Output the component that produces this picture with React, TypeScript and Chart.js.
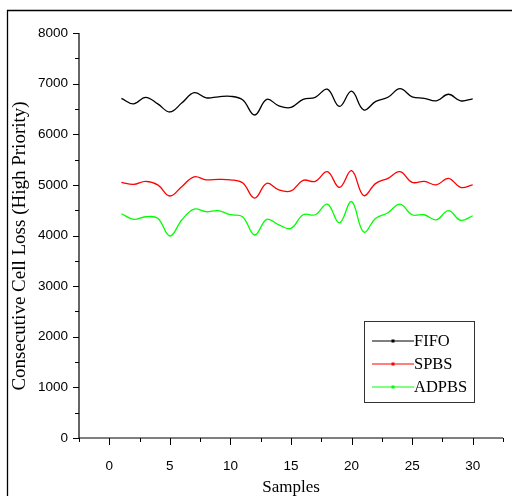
import React, { useEffect, useRef } from "react";
import { Chart, registerables } from "chart.js";

Chart.register(...registerables);

const samples = [1, 2, 3, 4, 5, 6, 7, 8, 9, 10, 11, 12, 13, 14, 15, 16, 17, 18, 19, 20, 21, 22, 23, 24, 25, 26, 27, 28, 29, 30];
const fifo = [6710, 6600, 6730, 6600, 6440, 6620, 6820, 6720, 6740, 6750, 6680, 6380, 6690, 6560, 6530, 6690, 6730, 6890, 6550, 6850, 6480, 6650, 6730, 6900, 6740, 6710, 6660, 6790, 6660, 6700];
const spbs = [5050, 5010, 5070, 5000, 4780, 4970, 5160, 5100, 5110, 5100, 5040, 4740, 5030, 4900, 4880, 5090, 5070, 5260, 4950, 5280, 4790, 5030, 5130, 5260, 5050, 5070, 5000, 5130, 4950, 5000];
const adpbs = [4430, 4320, 4370, 4340, 3990, 4310, 4520, 4470, 4490, 4410, 4370, 4010, 4320, 4210, 4140, 4410, 4410, 4620, 4250, 4670, 4070, 4340, 4450, 4620, 4410, 4410, 4310, 4490, 4300, 4390];
const seriesNames = ["FIFO", "SPBS", "ADPBS"];
const seriesColors = ["#000000", "#ff0000", "#00ff00"];
const xTickLabels = [0, 5, 10, 15, 20, 25, 30];
const yTickLabels = [0, 1000, 2000, 3000, 4000, 5000, 6000, 7000, 8000];
const xTitle = "Samples";
const yTitle = "Consecutive Cell Loss (High Priority)";

const tickFont = "'Liberation Sans', Arial, sans-serif";
const serifFont = "'Liberation Serif', 'Times New Roman', serif";

const decorPlugin = {
  id: "decor",
  afterDraw(chart: any) {
    const ctx = chart.ctx as CanvasRenderingContext2D;
    const { left, right, top, bottom } = chart.chartArea;
    const xs = chart.scales.x;
    const ys = chart.scales.y;
    ctx.save();
    ctx.strokeStyle = "#000";
    ctx.fillStyle = "#000";

    // outer frame (top and left)
    ctx.lineWidth = 1.3;
    ctx.beginPath();
    ctx.moveTo(7.5, 496);
    ctx.lineTo(7.5, 10.5);
    ctx.lineTo(512, 10.5);
    ctx.stroke();

    // axes
    ctx.lineWidth = 1.2;
    ctx.beginPath();
    ctx.moveTo(left, top);
    ctx.lineTo(left, bottom);
    ctx.lineTo(right, bottom);
    ctx.stroke();

    // x ticks
    ctx.lineWidth = 1;
    ctx.beginPath();
    for (let v = xs.min; v <= xs.max + 0.001; v += 2.5) {
      const px = Math.round(xs.getPixelForValue(v)) + 0.5;
      const major = Math.abs(v % 5) < 0.001;
      ctx.moveTo(px, bottom);
      ctx.lineTo(px, bottom + (major ? 7 : 4));
    }
    // y ticks
    for (let v = ys.min; v <= ys.max + 0.001; v += 500) {
      const py = Math.round(ys.getPixelForValue(v)) + 0.5;
      const major = Math.abs(v % 1000) < 0.001;
      ctx.moveTo(left, py);
      ctx.lineTo(left - (major ? 6 : 4), py);
    }
    ctx.stroke();

    // axis titles
    ctx.font = `17px ${serifFont}`;
    ctx.textAlign = "center";
    ctx.textBaseline = "middle";
    ctx.fillText(xTitle, (left + right) / 2, 488);
    ctx.save();
    ctx.translate(20, 246);
    ctx.rotate(-Math.PI / 2);
    ctx.font = `19px ${serifFont}`;
    ctx.fillText(yTitle, 0, 0);
    ctx.restore();

    // legend
    const bx = 364.5, by = 321.5, bw = 110, bh = 81;
    ctx.lineWidth = 1;
    ctx.strokeStyle = "#333";
    ctx.strokeRect(bx, by, bw, bh);
    ctx.font = `16.5px ${serifFont}`;
    ctx.textAlign = "left";
    const rows = [341, 364, 387];
    chart.data.datasets.forEach((ds: any, i: number) => {
      const y = rows[i];
      ctx.strokeStyle = ds.borderColor;
      ctx.lineWidth = 1.2;
      ctx.beginPath();
      ctx.moveTo(372, y);
      ctx.lineTo(414, y);
      ctx.stroke();
      ctx.fillStyle = ds.borderColor;
      ctx.fillRect(391.5, y - 1.5, 3, 3);
      ctx.fillStyle = "#000";
      ctx.fillText(ds.label, 414, y + 1);
    });
    ctx.restore();
  },
};

export default function App() {
  const ref = useRef<HTMLCanvasElement | null>(null);
  useEffect(() => {
    if (!ref.current) return;
    const mk = (vals: number[]) => samples.map((s, i) => ({ x: s, y: vals[i] }));
    const all = [fifo, spbs, adpbs];
    const chart = new Chart(ref.current, {
      type: "line",
      data: {
        datasets: all.map((vals, i) => ({
          label: seriesNames[i],
          data: mk(vals),
          borderColor: seriesColors[i],
          backgroundColor: seriesColors[i],
          borderWidth: 1.3,
          pointRadius: 0,
          tension: 0.4,
          fill: false,
        })),
      },
      options: {
        animation: false,
        responsive: false,
        devicePixelRatio: 1,
        layout: { padding: { left: 0, right: 9, top: 33, bottom: 0 } },
        plugins: { legend: { display: false }, tooltip: { enabled: false }, title: { display: false } },
        scales: {
          x: {
            type: "linear",
            min: -2.5,
            max: 32.5,
            grid: { display: false, drawTicks: false },
            border: { display: false },
            afterBuildTicks: (s: any) => {
              s.ticks = xTickLabels.map((v) => ({ value: v }));
            },
            afterFit: (s: any) => {
              s.height = 58;
            },
            ticks: {
              autoSkip: false,
              maxRotation: 0,
              padding: 20,
              color: "#000",
              font: { family: tickFont, size: 13.5 },
              callback: (v: any) => String(v),
            },
          },
          y: {
            type: "linear",
            min: 0,
            max: 8000,
            grid: { display: false, drawTicks: false },
            border: { display: false },
            afterBuildTicks: (s: any) => {
              s.ticks = yTickLabels.map((v) => ({ value: v }));
            },
            afterFit: (s: any) => {
              s.width = 79;
            },
            ticks: {
              autoSkip: false,
              padding: 11,
              color: "#000",
              font: { family: tickFont, size: 13.5 },
              callback: (v: any) => String(v),
            },
          },
        },
      },
      plugins: [decorPlugin],
    } as any);
    return () => chart.destroy();
  }, []);
  return (
    <div style={{ position: "absolute", left: 0, top: 0, width: 512, height: 496, background: "#fff" }}>
      <canvas ref={ref} width={512} height={496} style={{ display: "block", width: 512, height: 496 }} />
    </div>
  );
}
